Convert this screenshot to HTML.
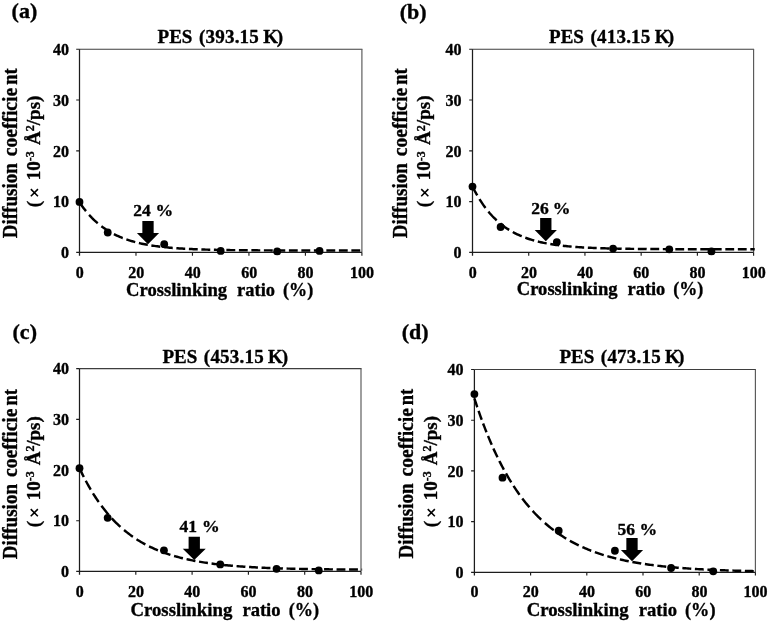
<!DOCTYPE html>
<html><head><meta charset="utf-8"><title>Diffusion coefficient vs crosslinking ratio</title>
<style>
html,body{margin:0;padding:0;background:#fff;}
svg{display:block;will-change:transform;}
text{font-family:"Liberation Serif",serif;font-weight:bold;fill:#000;stroke:#000;stroke-width:0.35px;stroke-linejoin:round;}
.tk{font-size:16px;}
.tt{font-size:19px;}
.xl{font-size:19.5px;}
.yl{font-size:20px;}
.y2{font-size:19px;}
.tg{font-size:22px;}
.an{font-size:17.5px;}
.sup{font-size:12px;}
.times{font-family:"Liberation Serif",serif;font-weight:normal;font-size:17px;}
</style></head><body>
<svg width="768" height="623" viewBox="0 0 768 623">
<rect x="0" y="0" width="768" height="623" fill="#ffffff"/>
<!-- panel (a) -->
<path d="M79.50 49.25H362.40" fill="none" stroke="#3e3e3e" stroke-width="1.1"/>
<path d="M361.90 49.25V252.40" fill="none" stroke="#585858" stroke-width="1.15"/>
<path d="M79.50 49.25V255.70M76.20 252.40H361.90" fill="none" stroke="#1c1c1c" stroke-width="1.25"/>
<path d="M76.20 201.61H79.50M76.20 150.82H79.50M76.20 100.04H79.50M76.20 49.25H79.50M135.98 252.40V255.70M192.46 252.40V255.70M248.94 252.40V255.70M305.42 252.40V255.70M361.90 252.40V255.70" fill="none" stroke="#1c1c1c" stroke-width="1.15"/>
<text class="tk" x="69.00" y="258.15" text-anchor="end">0</text>
<text class="tk" x="69.00" y="207.36" text-anchor="end">10</text>
<text class="tk" x="69.00" y="156.57" text-anchor="end">20</text>
<text class="tk" x="69.00" y="105.79" text-anchor="end">30</text>
<text class="tk" x="69.00" y="55.00" text-anchor="end">40</text>
<text class="tk" x="79.70" y="277.70" text-anchor="middle">0</text>
<text class="tk" x="136.18" y="277.70" text-anchor="middle">20</text>
<text class="tk" x="192.66" y="277.70" text-anchor="middle">40</text>
<text class="tk" x="249.14" y="277.70" text-anchor="middle">60</text>
<text class="tk" x="305.62" y="277.70" text-anchor="middle">80</text>
<text class="tk" x="362.10" y="277.70" text-anchor="middle">100</text>
<text class="tt" y="42.75"><tspan x="157.55">PES</tspan><tspan x="199.00" textLength="59.8" lengthAdjust="spacing">(393.15</tspan><tspan x="263.25">K</tspan><tspan x="276.65">)</tspan></text>
<text class="xl" y="295.50"><tspan x="126.00" textLength="101.10" lengthAdjust="spacingAndGlyphs">Crosslinking</tspan><tspan x="237.10" textLength="37.90" lengthAdjust="spacingAndGlyphs">ratio</tspan><tspan x="283.00" textLength="30.20" lengthAdjust="spacingAndGlyphs">(%)</tspan></text>
<text class="yl" transform="translate(16.70 238.30) rotate(-90)"><tspan x="0" textLength="75.07" lengthAdjust="spacingAndGlyphs">Diffusion</tspan><tspan x="82.07" textLength="68.36" lengthAdjust="spacingAndGlyphs">coefficie</tspan><tspan x="153.44" textLength="16.41" lengthAdjust="spacingAndGlyphs">nt</tspan></text>
<text class="y2" transform="translate(39.90 206.60) rotate(-90)" xml:space="preserve"><tspan x="-0.7">(</tspan><tspan x="26.32">10</tspan><tspan class="sup" dy="-5.6">-3</tspan><tspan dy="5.6" x="61.66">Å</tspan><tspan class="sup" dy="-5.6">2</tspan><tspan dy="5.6" x="81.37" textLength="29.63" lengthAdjust="spacing">/ps)</tspan></text>
<path transform="translate(39.90 206.60) rotate(-90)" d="M10.36 -9.05L17.46 -1.95M10.36 -1.95L17.46 -9.05" stroke="#000" stroke-width="1.55" fill="none"/>
<text class="tg" x="11.60" y="18.40">(a)</text>
<path d="M79.50 202.27L80.59 203.89L81.67 205.45L82.76 206.96L83.85 208.42L84.93 209.83L85.97 211.13M89.09 214.80L90.51 216.35L91.93 217.84L93.35 219.26L94.76 220.62L96.18 221.91L97.60 223.16L97.74 223.28M101.38 226.21L102.84 227.31L104.31 228.35L105.77 229.34L107.24 230.29L108.70 231.20L110.17 232.07L110.22 232.09M113.90 234.10L115.37 234.84L116.83 235.54L118.30 236.22L119.76 236.86L121.23 237.47L122.69 238.06L122.74 238.07M126.38 239.42L127.84 239.91L129.31 240.39L130.77 240.84L132.24 241.28L133.70 241.69L135.17 242.09L135.21 242.10M138.90 243.02L140.36 243.36L141.83 243.68L143.29 243.99L144.76 244.28L146.22 244.56L147.69 244.83L147.74 244.83M151.37 245.45L152.84 245.68L154.30 245.89L155.77 246.10L157.23 246.30L158.70 246.49L160.16 246.67L160.21 246.67M163.90 247.09L165.36 247.25L166.83 247.39L168.29 247.54L169.76 247.67L171.22 247.80L172.69 247.92L172.73 247.92M176.37 248.20L177.84 248.31L179.30 248.41L180.77 248.50L182.23 248.59L183.70 248.68L185.16 248.76L185.21 248.76M188.90 248.96L190.36 249.03L191.82 249.09L193.29 249.16L194.75 249.22L196.22 249.28L197.68 249.33L197.73 249.33M201.37 249.46L202.84 249.51L204.30 249.55L205.77 249.60L207.23 249.64L208.69 249.68L210.16 249.72L210.25 249.72M213.89 249.81L215.36 249.84L216.82 249.87L218.29 249.90L219.75 249.93L221.22 249.95L222.68 249.98L222.73 249.98M226.37 250.04L227.83 250.06L229.30 250.08L230.76 250.10L232.23 250.12L233.69 250.14L235.16 250.15L235.25 250.15M238.89 250.19L240.36 250.21L241.82 250.22L243.29 250.24L244.75 250.25L246.22 250.26L247.68 250.27L247.73 250.27M251.37 250.30L252.83 250.31L254.30 250.32L255.76 250.33L257.23 250.34L258.69 250.35L260.16 250.35L260.25 250.35M263.89 250.37L265.35 250.38L266.82 250.38L268.28 250.39L269.75 250.40L271.21 250.40L272.68 250.41L272.73 250.41M276.36 250.42L277.83 250.42L279.29 250.43L280.76 250.43L282.22 250.44L283.69 250.44L285.15 250.44L285.25 250.44M288.89 250.45L290.35 250.46L291.82 250.46L293.28 250.46L294.75 250.46L296.21 250.47L297.68 250.47L297.72 250.47M301.36 250.47L302.83 250.48L304.29 250.48L305.76 250.48L307.22 250.48L308.69 250.48L310.15 250.49L310.25 250.49M313.88 250.49L315.35 250.49L316.81 250.49L318.28 250.49L319.74 250.49L321.21 250.50L322.67 250.50L322.72 250.50M326.36 250.50L327.82 250.50L329.29 250.50L330.75 250.50L332.22 250.50L333.68 250.50L335.15 250.50L335.24 250.50M338.88 250.51L340.35 250.51L341.81 250.51L343.28 250.51L344.74 250.51L346.21 250.51L347.67 250.51L347.72 250.51M351.36 250.51L352.82 250.51L354.29 250.51L355.75 250.51L357.22 250.51L358.68 250.51L360.15 250.51L360.24 250.51" fill="none" stroke="#000" stroke-width="2.45"/>
<circle cx="79.50" cy="201.97" r="3.9" fill="#000"/>
<circle cx="107.74" cy="232.49" r="3.9" fill="#000"/>
<circle cx="164.22" cy="244.17" r="3.9" fill="#000"/>
<circle cx="220.70" cy="250.88" r="3.9" fill="#000"/>
<circle cx="277.18" cy="251.38" r="3.9" fill="#000"/>
<circle cx="319.54" cy="250.88" r="3.9" fill="#000"/>
<path d="M142.35 220.90H153.65V233.00H159.10L148.00 244.20L136.90 233.00H142.35Z" fill="#000"/>
<text class="an" y="216.30"><tspan x="133.30">24</tspan><tspan x="155.40" font-size="17.7px">%</tspan></text>
<!-- panel (b) -->
<path d="M472.50 49.25H754.10" fill="none" stroke="#3e3e3e" stroke-width="1.1"/>
<path d="M753.60 49.25V252.40" fill="none" stroke="#585858" stroke-width="1.15"/>
<path d="M472.50 49.25V255.70M469.20 252.40H753.60" fill="none" stroke="#1c1c1c" stroke-width="1.25"/>
<path d="M469.20 201.61H472.50M469.20 150.82H472.50M469.20 100.04H472.50M469.20 49.25H472.50M528.72 252.40V255.70M584.94 252.40V255.70M641.16 252.40V255.70M697.38 252.40V255.70M753.60 252.40V255.70" fill="none" stroke="#1c1c1c" stroke-width="1.15"/>
<text class="tk" x="461.50" y="258.15" text-anchor="end">0</text>
<text class="tk" x="461.50" y="207.36" text-anchor="end">10</text>
<text class="tk" x="461.50" y="156.57" text-anchor="end">20</text>
<text class="tk" x="461.50" y="105.79" text-anchor="end">30</text>
<text class="tk" x="461.50" y="55.00" text-anchor="end">40</text>
<text class="tk" x="472.70" y="277.50" text-anchor="middle">0</text>
<text class="tk" x="528.92" y="277.50" text-anchor="middle">20</text>
<text class="tk" x="585.14" y="277.50" text-anchor="middle">40</text>
<text class="tk" x="641.36" y="277.50" text-anchor="middle">60</text>
<text class="tk" x="697.58" y="277.50" text-anchor="middle">80</text>
<text class="tk" x="753.80" y="277.50" text-anchor="middle">100</text>
<text class="tt" y="42.50"><tspan x="549.05">PES</tspan><tspan x="590.50" textLength="59.8" lengthAdjust="spacing">(413.15</tspan><tspan x="654.75">K</tspan><tspan x="667.80">)</tspan></text>
<text class="xl" y="295.40"><tspan x="516.80" textLength="100.77" lengthAdjust="spacingAndGlyphs">Crosslinking</tspan><tspan x="627.54" textLength="37.78" lengthAdjust="spacingAndGlyphs">ratio</tspan><tspan x="673.30" textLength="30.10" lengthAdjust="spacingAndGlyphs">(%)</tspan></text>
<text class="yl" transform="translate(406.60 238.30) rotate(-90)"><tspan x="0" textLength="75.07" lengthAdjust="spacingAndGlyphs">Diffusion</tspan><tspan x="82.07" textLength="68.36" lengthAdjust="spacingAndGlyphs">coefficie</tspan><tspan x="153.44" textLength="16.41" lengthAdjust="spacingAndGlyphs">nt</tspan></text>
<text class="y2" transform="translate(430.30 206.60) rotate(-90)" xml:space="preserve"><tspan x="-0.7">(</tspan><tspan x="26.35">10</tspan><tspan class="sup" dy="-5.6">-3</tspan><tspan dy="5.6" x="61.71">Å</tspan><tspan class="sup" dy="-5.6">2</tspan><tspan dy="5.6" x="81.45" textLength="29.65" lengthAdjust="spacing">/ps)</tspan></text>
<path transform="translate(430.30 206.60) rotate(-90)" d="M10.38 -9.05L17.48 -1.95M10.38 -1.95L17.48 -9.05" stroke="#000" stroke-width="1.55" fill="none"/>
<text class="tg" x="399.70" y="18.50">(b)</text>
<path d="M472.50 186.58L473.30 188.17L474.10 189.71L474.90 191.22L475.70 192.69L476.50 194.12L477.25 195.43M479.46 199.11L480.45 200.67L481.44 202.19L482.42 203.65L483.41 205.08L484.40 206.45L485.39 207.79L485.53 207.97M488.40 211.60L489.76 213.21L491.13 214.75L492.49 216.23L493.85 217.64L495.22 218.99L496.58 220.29L496.68 220.37M500.30 223.54L501.76 224.71L503.22 225.83L504.67 226.90L506.13 227.92L507.59 228.90L509.05 229.83L509.19 229.91M512.81 232.03L514.27 232.82L515.73 233.57L517.19 234.29L518.64 234.97L520.10 235.62L521.56 236.24L521.65 236.28M525.32 237.72L526.78 238.25L528.24 238.75L529.70 239.23L531.16 239.69L532.61 240.12L534.07 240.54L534.17 240.57M537.83 241.53L539.29 241.88L540.75 242.22L542.21 242.54L543.67 242.85L545.13 243.14L546.58 243.42L546.68 243.44M550.30 244.07L551.76 244.31L553.22 244.53L554.67 244.75L556.13 244.96L557.59 245.15L559.05 245.34L559.19 245.36M562.81 245.78L564.27 245.94L565.73 246.09L567.19 246.24L568.64 246.37L570.10 246.51L571.56 246.63L571.65 246.64M575.32 246.93L576.78 247.04L578.24 247.14L579.70 247.23L581.16 247.32L582.61 247.41L584.07 247.50L584.17 247.50M587.84 247.70L589.29 247.77L590.75 247.83L592.21 247.90L593.67 247.96L595.13 248.02L596.58 248.08L596.68 248.08M600.30 248.21L601.76 248.26L603.22 248.30L604.68 248.34L606.13 248.39L607.59 248.43L609.05 248.46L609.19 248.47M612.81 248.55L614.27 248.58L615.73 248.62L617.19 248.64L618.65 248.67L620.10 248.70L621.56 248.72L621.66 248.73M625.32 248.78L626.78 248.80L628.24 248.83L629.70 248.84L631.16 248.86L632.62 248.88L634.07 248.90L634.17 248.90M637.84 248.94L639.29 248.95L640.75 248.97L642.21 248.98L643.67 248.99L645.13 249.00L646.59 249.01L646.68 249.02M650.30 249.04L651.76 249.05L653.22 249.06L654.68 249.07L656.13 249.08L657.59 249.08L659.05 249.09L659.19 249.09M662.81 249.11L664.27 249.12L665.73 249.12L667.19 249.13L668.65 249.13L670.10 249.14L671.56 249.14L671.66 249.15M675.33 249.16L676.78 249.16L678.24 249.17L679.70 249.17L681.16 249.17L682.62 249.18L684.07 249.18L684.17 249.18M687.84 249.19L689.30 249.19L690.75 249.19L692.21 249.20L693.67 249.20L695.13 249.20L696.59 249.20L696.68 249.20M700.30 249.21L701.76 249.21L703.22 249.21L704.68 249.21L706.13 249.22L707.59 249.22L709.05 249.22L709.15 249.22M712.81 249.22L714.27 249.22L715.73 249.23L717.19 249.23L718.65 249.23L720.10 249.23L721.56 249.23L721.66 249.23M725.33 249.23L726.78 249.23L728.24 249.23L729.70 249.23L731.16 249.24L732.62 249.24L734.07 249.24L734.17 249.24M737.84 249.24L739.30 249.24L740.75 249.24L742.21 249.24L743.67 249.24L745.13 249.24L746.59 249.24L746.68 249.24M750.30 249.24L751.01 249.24L751.71 249.24L752.42 249.24L753.13 249.24L753.83 249.24L754.54 249.24L754.72 249.24" fill="none" stroke="#000" stroke-width="2.45"/>
<circle cx="472.50" cy="186.58" r="3.9" fill="#000"/>
<circle cx="500.61" cy="227.01" r="3.9" fill="#000"/>
<circle cx="556.83" cy="242.09" r="3.9" fill="#000"/>
<circle cx="613.05" cy="248.59" r="3.9" fill="#000"/>
<circle cx="669.27" cy="249.35" r="3.9" fill="#000"/>
<circle cx="711.44" cy="251.38" r="3.9" fill="#000"/>
<path d="M540.15 217.90H551.45V230.00H556.90L545.80 241.20L534.70 230.00H540.15Z" fill="#000"/>
<text class="an" y="213.70"><tspan x="531.20">26</tspan><tspan x="552.80" font-size="17.7px">%</tspan></text>
<!-- panel (c) -->
<path d="M79.50 368.60H361.50" fill="none" stroke="#3e3e3e" stroke-width="1.1"/>
<path d="M361.00 368.60V571.40" fill="none" stroke="#585858" stroke-width="1.15"/>
<path d="M79.50 368.60V574.70M76.20 571.40H361.00" fill="none" stroke="#1c1c1c" stroke-width="1.25"/>
<path d="M76.20 520.70H79.50M76.20 470.00H79.50M76.20 419.30H79.50M76.20 368.60H79.50M135.80 571.40V574.70M192.10 571.40V574.70M248.40 571.40V574.70M304.70 571.40V574.70M361.00 571.40V574.70" fill="none" stroke="#1c1c1c" stroke-width="1.15"/>
<text class="tk" x="69.00" y="577.15" text-anchor="end">0</text>
<text class="tk" x="69.00" y="526.45" text-anchor="end">10</text>
<text class="tk" x="69.00" y="475.75" text-anchor="end">20</text>
<text class="tk" x="69.00" y="425.05" text-anchor="end">30</text>
<text class="tk" x="69.00" y="374.35" text-anchor="end">40</text>
<text class="tk" x="79.70" y="596.90" text-anchor="middle">0</text>
<text class="tk" x="136.00" y="596.90" text-anchor="middle">20</text>
<text class="tk" x="192.30" y="596.90" text-anchor="middle">40</text>
<text class="tk" x="248.60" y="596.90" text-anchor="middle">60</text>
<text class="tk" x="304.90" y="596.90" text-anchor="middle">80</text>
<text class="tk" x="361.20" y="596.90" text-anchor="middle">100</text>
<text class="tt" y="363.10"><tspan x="162.40">PES</tspan><tspan x="203.85" textLength="59.8" lengthAdjust="spacing">(453.15</tspan><tspan x="268.10">K</tspan><tspan x="281.70">)</tspan></text>
<text class="xl" y="616.25"><tspan x="130.40" textLength="101.91" lengthAdjust="spacingAndGlyphs">Crosslinking</tspan><tspan x="242.39" textLength="38.21" lengthAdjust="spacingAndGlyphs">ratio</tspan><tspan x="288.66" textLength="30.44" lengthAdjust="spacingAndGlyphs">(%)</tspan></text>
<text class="yl" transform="translate(16.70 559.15) rotate(-90)"><tspan x="0" textLength="75.18" lengthAdjust="spacingAndGlyphs">Diffusion</tspan><tspan x="82.19" textLength="68.46" lengthAdjust="spacingAndGlyphs">coefficie</tspan><tspan x="153.66" textLength="16.44" lengthAdjust="spacingAndGlyphs">nt</tspan></text>
<text class="y2" transform="translate(39.80 526.50) rotate(-90)" xml:space="preserve"><tspan x="-0.7">(</tspan><tspan x="26.16">10</tspan><tspan class="sup" dy="-5.6">-3</tspan><tspan dy="5.6" x="61.27">Å</tspan><tspan class="sup" dy="-5.6">2</tspan><tspan dy="5.6" x="80.86" textLength="29.44" lengthAdjust="spacing">/ps)</tspan></text>
<path transform="translate(39.80 526.50) rotate(-90)" d="M10.27 -9.05L17.37 -1.95M10.27 -1.95L17.37 -9.05" stroke="#000" stroke-width="1.55" fill="none"/>
<text class="tg" x="12.55" y="338.75">(c)</text>
<path d="M79.50 468.23L80.21 469.72L80.91 471.20L81.62 472.66L82.33 474.09L83.03 475.50L83.74 476.89L83.83 477.08M85.76 480.77L86.57 482.26L87.37 483.72L88.17 485.16L88.97 486.57L89.77 487.96L90.57 489.33L90.71 489.57M92.97 493.29L93.91 494.80L94.86 496.27L95.80 497.71L96.74 499.13L97.68 500.51L98.62 501.87L98.77 502.08M101.40 505.73L102.58 507.30L103.76 508.83L104.94 510.32L106.11 511.78L107.29 513.20L108.47 514.59M111.72 518.24L113.18 519.80L114.64 521.31L116.10 522.78L117.56 524.20L119.02 525.59L120.43 526.88M124.06 530.04L125.52 531.24L126.98 532.41L128.44 533.54L129.90 534.64L131.36 535.71L132.82 536.74L132.92 536.80M136.54 539.23L138.00 540.16L139.46 541.06L140.92 541.93L142.38 542.77L143.84 543.59L145.30 544.39L145.40 544.44M149.07 546.33L150.53 547.04L151.99 547.73L153.45 548.40L154.91 549.05L156.37 549.68L157.83 550.29L157.93 550.33M161.56 551.76L163.02 552.31L164.48 552.84L165.94 553.36L167.40 553.86L168.86 554.34L170.32 554.81L170.41 554.84M174.09 555.96L175.55 556.38L177.01 556.79L178.47 557.18L179.93 557.57L181.39 557.94L182.85 558.30L182.94 558.32M186.57 559.17L188.03 559.49L189.49 559.81L190.95 560.11L192.41 560.41L193.87 560.69L195.33 560.97L195.42 560.99M199.05 561.64L200.51 561.89L201.97 562.13L203.43 562.37L204.89 562.59L206.35 562.81L207.81 563.03L207.91 563.04M211.58 563.55L213.04 563.74L214.50 563.93L215.96 564.11L217.42 564.28L218.88 564.45L220.34 564.61L220.44 564.62M224.06 565.01L225.52 565.16L226.98 565.30L228.44 565.44L229.90 565.57L231.36 565.70L232.82 565.83L232.92 565.84M236.55 566.13L238.01 566.25L239.47 566.36L240.93 566.46L242.39 566.57L243.85 566.67L245.31 566.76L245.40 566.77M249.08 567.00L250.54 567.09L252.00 567.17L253.46 567.25L254.92 567.33L256.38 567.41L257.84 567.49L257.93 567.49M261.56 567.67L263.02 567.73L264.48 567.80L265.94 567.86L267.40 567.92L268.86 567.98L270.32 568.04L270.41 568.04M274.09 568.18L275.55 568.23L277.01 568.28L278.47 568.33L279.93 568.37L281.39 568.42L282.85 568.46L282.90 568.47M286.57 568.57L288.03 568.61L289.49 568.65L290.95 568.69L292.41 568.72L293.87 568.76L295.33 568.79L295.43 568.79M299.05 568.87L300.51 568.90L301.97 568.93L303.43 568.96L304.89 568.99L306.35 569.02L307.81 569.04L307.91 569.04M311.58 569.11L313.04 569.13L314.50 569.15L315.96 569.17L317.42 569.19L318.88 569.22L320.34 569.24L320.44 569.24M324.07 569.28L325.53 569.30L326.99 569.32L328.45 569.34L329.91 569.35L331.37 569.37L332.83 569.38L332.92 569.39M336.55 569.42L338.01 569.44L339.47 569.45L340.93 569.46L342.39 569.47L343.85 569.49L345.31 569.50L345.40 569.50M349.08 569.53L350.54 569.54L352.00 569.55L353.46 569.56L354.92 569.57L356.38 569.58L357.84 569.59L357.93 569.59M361.56 569.61L361.65 569.61L361.75 569.61L361.84 569.61L361.94 569.61L362.03 569.61L362.13 569.61" fill="none" stroke="#000" stroke-width="2.45"/>
<circle cx="79.50" cy="468.23" r="3.9" fill="#000"/>
<circle cx="107.65" cy="517.81" r="3.9" fill="#000"/>
<circle cx="163.95" cy="550.36" r="3.9" fill="#000"/>
<circle cx="220.25" cy="564.40" r="3.9" fill="#000"/>
<circle cx="276.55" cy="568.87" r="3.9" fill="#000"/>
<circle cx="318.77" cy="570.39" r="3.9" fill="#000"/>
<path d="M188.60 536.70H199.90V548.80H205.75L194.25 560.00L182.75 548.80H188.60Z" fill="#000"/>
<text class="an" y="532.00"><tspan x="179.50">41</tspan><tspan x="202.10" font-size="17.7px">%</tspan></text>
<!-- panel (d) -->
<path d="M474.40 369.50H755.90" fill="none" stroke="#3e3e3e" stroke-width="1.1"/>
<path d="M755.40 369.50V572.30" fill="none" stroke="#585858" stroke-width="1.15"/>
<path d="M474.40 369.50V575.60M471.10 572.30H755.40" fill="none" stroke="#1c1c1c" stroke-width="1.25"/>
<path d="M471.10 521.60H474.40M471.10 470.90H474.40M471.10 420.20H474.40M471.10 369.50H474.40M530.60 572.30V575.60M586.80 572.30V575.60M643.00 572.30V575.60M699.20 572.30V575.60M755.40 572.30V575.60" fill="none" stroke="#1c1c1c" stroke-width="1.15"/>
<text class="tk" x="463.60" y="578.05" text-anchor="end">0</text>
<text class="tk" x="463.60" y="527.35" text-anchor="end">10</text>
<text class="tk" x="463.60" y="476.65" text-anchor="end">20</text>
<text class="tk" x="463.60" y="425.95" text-anchor="end">30</text>
<text class="tk" x="463.60" y="375.25" text-anchor="end">40</text>
<text class="tk" x="474.60" y="597.00" text-anchor="middle">0</text>
<text class="tk" x="530.80" y="597.00" text-anchor="middle">20</text>
<text class="tk" x="587.00" y="597.00" text-anchor="middle">40</text>
<text class="tk" x="643.20" y="597.00" text-anchor="middle">60</text>
<text class="tk" x="699.40" y="597.00" text-anchor="middle">80</text>
<text class="tk" x="755.60" y="597.00" text-anchor="middle">100</text>
<text class="tt" y="363.10"><tspan x="559.40">PES</tspan><tspan x="600.85" textLength="59.8" lengthAdjust="spacing">(473.15</tspan><tspan x="665.10">K</tspan><tspan x="678.00">)</tspan></text>
<text class="xl" y="615.80"><tspan x="526.65" textLength="102.00" lengthAdjust="spacingAndGlyphs">Crosslinking</tspan><tspan x="638.73" textLength="38.24" lengthAdjust="spacingAndGlyphs">ratio</tspan><tspan x="685.04" textLength="30.47" lengthAdjust="spacingAndGlyphs">(%)</tspan></text>
<text class="yl" transform="translate(412.70 558.45) rotate(-90)"><tspan x="0" textLength="75.00" lengthAdjust="spacingAndGlyphs">Diffusion</tspan><tspan x="82.00" textLength="68.30" lengthAdjust="spacingAndGlyphs">coefficie</tspan><tspan x="153.30" textLength="16.40" lengthAdjust="spacingAndGlyphs">nt</tspan></text>
<text class="y2" transform="translate(436.80 526.50) rotate(-90)" xml:space="preserve"><tspan x="-0.7">(</tspan><tspan x="26.20">10</tspan><tspan class="sup" dy="-5.6">-3</tspan><tspan dy="5.6" x="61.38">Å</tspan><tspan class="sup" dy="-5.6">2</tspan><tspan dy="5.6" x="81.01" textLength="29.49" lengthAdjust="spacing">/ps)</tspan></text>
<path transform="translate(436.80 526.50) rotate(-90)" d="M10.30 -9.05L17.40 -1.95M10.30 -1.95L17.40 -9.05" stroke="#000" stroke-width="1.55" fill="none"/>
<text class="tg" x="401.80" y="338.75">(d)</text>
<path d="M474.40 398.40L474.87 399.86L475.34 401.30L475.81 402.73L476.28 404.15L476.75 405.56L477.22 406.96L477.32 407.23M478.58 410.94L479.10 412.42L479.62 413.90L480.14 415.35L480.65 416.80L481.17 418.23L481.69 419.65L481.74 419.78M483.10 423.45L483.66 424.95L484.23 426.43L484.79 427.89L485.36 429.34L485.92 430.78L486.48 432.20M487.99 435.92L488.60 437.40L489.21 438.87L489.82 440.32L490.43 441.75L491.05 443.17L491.66 444.57L491.75 444.79M493.40 448.49L494.05 449.94L494.71 451.37L495.37 452.78L496.03 454.18L496.69 455.56L497.35 456.93L497.49 457.22M499.32 460.93L500.07 462.42L500.83 463.89L501.58 465.34L502.33 466.77L503.08 468.18L503.83 469.57L503.93 469.74M506.00 473.47L506.84 474.95L507.69 476.42L508.54 477.86L509.38 479.27L510.23 480.67L511.08 482.05L511.22 482.28M513.52 485.91L514.51 487.42L515.50 488.91L516.48 490.37L517.47 491.80L518.46 493.21L519.45 494.59L519.59 494.79M522.27 498.42L523.44 499.95L524.62 501.46L525.79 502.93L526.97 504.38L528.14 505.79L529.32 507.17L529.41 507.28M532.66 510.95L534.07 512.48L535.48 513.97L536.89 515.42L538.30 516.84L539.71 518.22L541.12 519.56L541.22 519.65M544.88 523.00L546.34 524.26L547.80 525.50L549.26 526.70L550.71 527.88L552.17 529.02L553.63 530.13L553.72 530.20M557.39 532.88L558.85 533.89L560.31 534.88L561.76 535.84L563.22 536.78L564.68 537.69L566.14 538.58L566.23 538.64M569.90 540.78L571.36 541.59L572.81 542.38L574.27 543.15L575.73 543.90L577.19 544.63L578.64 545.34L578.74 545.39M582.41 547.10L583.86 547.74L585.32 548.38L586.78 548.99L588.24 549.59L589.69 550.18L591.15 550.75L591.25 550.78M594.87 552.13L596.32 552.65L597.78 553.16L599.24 553.65L600.70 554.13L602.16 554.60L603.61 555.05L603.75 555.09M607.37 556.17L608.83 556.59L610.29 556.99L611.75 557.39L613.21 557.77L614.66 558.14L616.12 558.51L616.26 558.54M619.88 559.41L621.34 559.74L622.80 560.06L624.25 560.38L625.71 560.68L627.17 560.98L628.63 561.27L628.72 561.29M632.39 561.99L633.85 562.25L635.30 562.51L636.76 562.77L638.22 563.01L639.68 563.25L641.14 563.48L641.23 563.50M644.90 564.06L646.35 564.27L647.81 564.47L649.27 564.68L650.73 564.87L652.19 565.06L653.64 565.25L653.74 565.26M657.40 565.71L658.86 565.88L660.32 566.04L661.78 566.20L663.23 566.36L664.69 566.51L666.15 566.66L666.24 566.67M669.86 567.02L671.32 567.16L672.78 567.29L674.24 567.42L675.70 567.55L677.15 567.67L678.61 567.79L678.75 567.80M682.37 568.08L683.83 568.19L685.29 568.30L686.75 568.40L688.20 568.50L689.66 568.60L691.12 568.69L691.26 568.70M694.88 568.93L696.34 569.01L697.80 569.10L699.25 569.18L700.71 569.26L702.17 569.34L703.63 569.42L703.72 569.42M707.39 569.60L708.85 569.67L710.30 569.74L711.76 569.81L713.22 569.87L714.68 569.93L716.13 569.99L716.23 570.00M719.89 570.14L721.35 570.20L722.81 570.25L724.27 570.31L725.73 570.36L727.18 570.41L728.64 570.46L728.73 570.46M732.40 570.58L733.86 570.62L735.32 570.66L736.78 570.71L738.23 570.75L739.69 570.79L741.15 570.83L741.24 570.83M744.86 570.92L746.32 570.96L747.78 570.99L749.24 571.02L750.69 571.06L752.15 571.09L753.61 571.12L753.75 571.12" fill="none" stroke="#000" stroke-width="2.45"/>
<circle cx="474.40" cy="394.09" r="3.9" fill="#000"/>
<circle cx="502.50" cy="477.64" r="3.9" fill="#000"/>
<circle cx="558.70" cy="530.73" r="3.9" fill="#000"/>
<circle cx="614.90" cy="550.75" r="3.9" fill="#000"/>
<circle cx="671.10" cy="567.99" r="3.9" fill="#000"/>
<circle cx="713.25" cy="571.29" r="3.9" fill="#000"/>
<path d="M626.35 537.95H637.65V550.05H643.10L632.00 561.25L620.90 550.05H626.35Z" fill="#000"/>
<text class="an" y="534.50"><tspan x="617.50">56</tspan><tspan x="639.60" font-size="17.7px">%</tspan></text>
</svg></body></html>
